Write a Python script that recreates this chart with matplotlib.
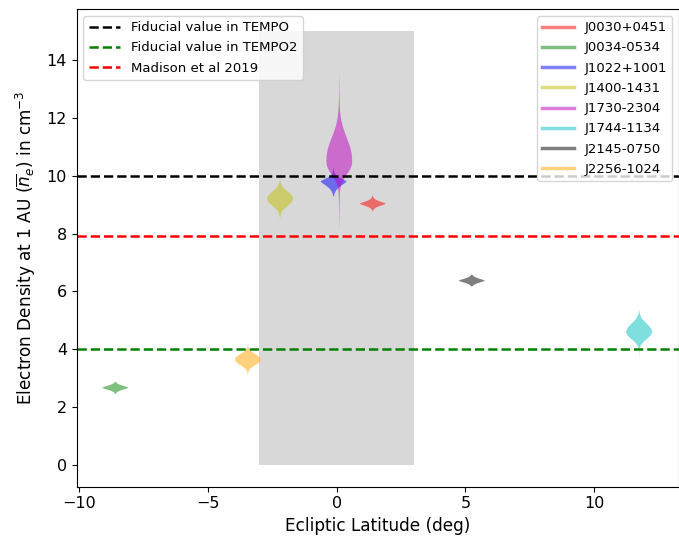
import numpy as np
import matplotlib.pyplot as plt
from matplotlib.lines import Line2D

# pulsars and where their violins sit
pulsars = ['J0030+0451', 'J0034-0534', 'J1022+1001', 'J1400-1431',
           'J1730-2304', 'J1744-1134', 'J2145-0750', 'J2256-1024']
colors = ['r', 'g', 'b', 'y', 'm', 'c', 'k', 'orange']
ecl_lat = [1.4, -8.6, -0.12, -2.2, 0.1, 11.75, 5.25, -3.45]
ne_peak = [9.03, 2.67, 9.8, 9.2, 10.5, 4.6, 6.37, 3.64]
ne_low = [8.77, 2.45, 9.28, 8.5, 8.1, 3.7, 6.17, 3.1]
ne_high = [9.33, 2.88, 10.3, 9.95, 13.6, 5.35, 6.58, 4.2]
# rough spread of each violin body below / above the peak
sig_low = [0.11, 0.1, 0.22, 0.33, 0.6, 0.33, 0.1, 0.25]
sig_high = [0.11, 0.1, 0.15, 0.33, 1.05, 0.38, 0.1, 0.25]
shape_pow = [1.6, 1.7, 1.5, 2.2, 2.3, 2.2, 1.6, 2.2]
tail_frac = 0.06

# reference values
ne_tempo = 10.0
ne_tempo2 = 4.0
ne_madison = 7.9

plt.rcParams['font.size'] = 11.5

fig, ax = plt.subplots(figsize=(6.79, 5.45), dpi=100)
fig.subplots_adjust(left=0.113, right=1.0, bottom=0.107, top=0.983)

# shaded region around the ecliptic
ax.fill_between([-3, 3], 0, 15, color='gray', alpha=0.3, lw=0)

l1 = ax.axhline(ne_tempo, color='k', ls='--', lw=1.8, label='Fiducial value in TEMPO')
l2 = ax.axhline(ne_tempo2, color='g', ls='--', lw=1.8, label='Fiducial value in TEMPO2')
l3 = ax.axhline(ne_madison, color='r', ls='--', lw=1.8, label='Madison et al 2019')

# build violin stats by hand for each pulsar
for i in range(len(pulsars)):
    y = np.linspace(ne_low[i], ne_high[i], 400)
    d = y - ne_peak[i]
    s = np.where(d < 0, sig_low[i], sig_high[i])
    reach = np.where(d < 0, ne_peak[i] - ne_low[i], ne_high[i] - ne_peak[i])
    dens = np.exp(-np.abs(d / s) ** shape_pow[i])
    dens = dens + tail_frac * (1 - np.abs(d) / reach)
    stats = [dict(coords=y, vals=dens, mean=ne_peak[i], median=ne_peak[i],
                  min=ne_low[i], max=ne_high[i], quantiles=[])]
    parts = ax.violin(stats, positions=[ecl_lat[i]], widths=1.0,
                      showmeans=False, showextrema=False, showmedians=False)
    for pc in parts['bodies']:
        pc.set_facecolor(colors[i])
        pc.set_edgecolor('none')
        pc.set_alpha(0.5)

ax.set_xlim(-10.1, 13.3)
ax.set_ylim(-0.75, 15.75)
ax.set_xticks([-10, -5, 0, 5, 10])
ax.set_xlabel('Ecliptic Latitude (deg)', fontsize=12.2)
ax.set_ylabel(r'Electron Density at 1 AU ($\overline{n}_e$) in cm$^{-3}$',
              fontsize=12.2, labelpad=6)

leg1 = ax.legend(handles=[l1, l2, l3], loc='upper left', fontsize=9.5,
                 labelspacing=0.55, handlelength=2.4)
ax.add_artist(leg1)
handles = [Line2D([], [], color=c, alpha=0.5, lw=2.5) for c in colors]
ax.legend(handles, pulsars, loc='upper right', fontsize=9.5,
          labelspacing=0.55, handlelength=2.4)

fig.savefig('out.png')
